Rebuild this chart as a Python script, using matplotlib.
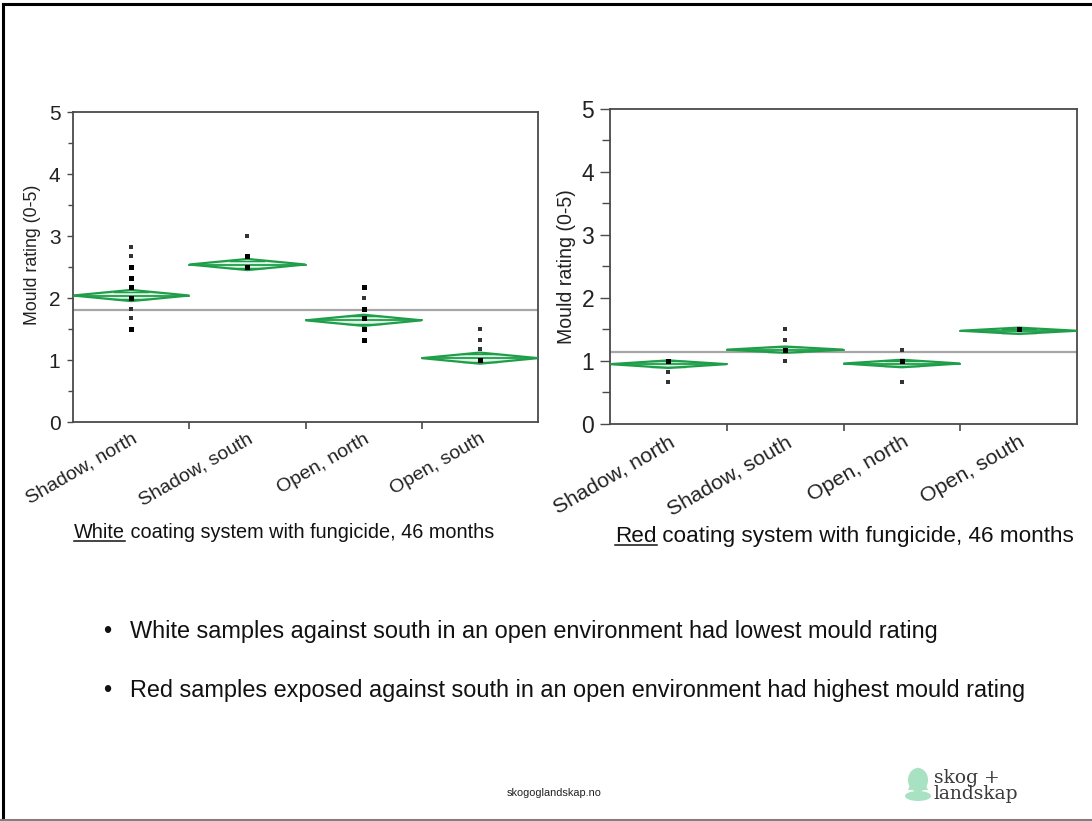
import numpy as np
import matplotlib
matplotlib.use("Agg")
import matplotlib.pyplot as plt
from matplotlib.patches import Polygon, Ellipse
from matplotlib.lines import Line2D

plt.rcParams['font.family'] = ['Liberation Sans', 'DejaVu Sans']

# ---- data ---------------------------------------------------------------
categories = ["Shadow, north", "Shadow, south", "Open, north", "Open, south"]

white_means = [2.04, 2.54, 1.64, 1.03]
white_ci = [0.09, 0.09, 0.09, 0.09]
white_grand_mean = 1.81
white_points = [
    [1.50, 1.67, 1.83, 2.00, 2.17, 2.33, 2.50, 2.67, 2.83],
    [2.50, 2.67, 3.00],
    [1.33, 1.50, 1.67, 1.83, 2.00, 2.17],
    [1.00, 1.17, 1.33, 1.50],
]
white_counts = [
    [2, 1, 1, 2, 2, 2, 2, 1, 1],
    [2, 2, 1],
    [2, 2, 2, 2, 1, 2],
    [2, 1, 1, 1],
]

red_means = [0.95, 1.18, 0.96, 1.48]
red_ci = [0.06, 0.05, 0.06, 0.05]
red_grand_mean = 1.14
red_points = [
    [0.67, 0.83, 1.00],
    [1.00, 1.17, 1.33, 1.50],
    [0.67, 1.00, 1.17],
    [1.50],
]
red_counts = [
    [1, 1, 2],
    [1, 2, 1, 1],
    [1, 2, 1],
    [2],
]

y_label = "Mould rating (0-5)"
bullets = [
    "White samples against south in an open environment had lowest mould rating",
    "Red samples exposed against south in an open environment had highest mould rating",
]

GREEN = "#1f9e4a"
W, H = 1092, 821
fig = plt.figure(figsize=(W / 100, H / 100), dpi=100)


def px_rect(x0, y0, x1, y1):
    return [x0 / W, 1 - y1 / H, (x1 - x0) / W, (y1 - y0) / H]


def draw_panel(ax, means, ci, grand, points, counts, scale, ytick_len):
    n = len(categories)
    ax.set_xlim(-0.5, n - 0.5)
    ax.set_ylim(0, 5)
    ax.axhline(grand, color="#a6a6a6", lw=1.6, zorder=1)
    for i, (m, c) in enumerate(zip(means, ci)):
        xl, xr = i - 0.5, i + 0.5
        diamond = Polygon([(xl, m), (i, m + c), (xr, m), (i, m - c)],
                          closed=True, facecolor="#e2f4e7", edgecolor=GREEN,
                          lw=1.6, zorder=2)
        ax.add_patch(diamond)
        ax.plot([xl, xr], [m, m], color=GREEN, lw=1.3, zorder=3)
        k = c / np.sqrt(2)
        hw = 0.5 * (1 - 1 / np.sqrt(2))
        for s in (1, -1):
            ax.plot([i - hw, i + hw], [m + s * k, m + s * k], color=GREEN,
                    lw=1.0, zorder=3)
    for i, (vals, cnt) in enumerate(zip(points, counts)):
        vals = np.asarray(vals)
        cnt = np.asarray(cnt)
        big = cnt > 1
        ax.plot(np.full(big.sum(), i), vals[big], ls="none", marker="s",
                ms=3.6, color="black", mec="black", mew=0, zorder=4)
        ax.plot(np.full((~big).sum(), i), vals[~big], ls="none", marker="s",
                ms=2.6, color="#333333", mec="#333333", mew=0, zorder=4)

    for sp in ax.spines.values():
        sp.set_color("#4a4a4a")
        sp.set_linewidth(1.3)
    ax.set_yticks(range(0, 6))
    ax.set_yticks(np.arange(0.5, 5, 1.0), minor=True)
    ax.tick_params(axis="y", which="major", length=ytick_len, width=1.0,
                   color="#4a4a4a", labelsize=15 * scale, pad=4.5,
                   labelcolor="#222222")
    ax.tick_params(axis="y", which="minor", length=ytick_len * 0.8,
                   width=1.0, color="#4a4a4a")
    # boundaries between categories carry tick marks, names sit in between
    ax.set_xticks(np.arange(0.5, n - 0.5, 1.0))
    ax.set_xticklabels([])
    ax.tick_params(axis="x", which="major", length=5, width=1.2,
                   color="#4a4a4a")
    ax.set_xticks(np.arange(n), minor=True)
    ax.set_xticklabels(categories, minor=True, rotation=30, ha="right",
                       va="top", rotation_mode="anchor",
                       fontsize=14 * scale, color="#222222")
    ax.tick_params(axis="x", which="minor", length=0, pad=6)
    ax.set_ylabel(y_label, fontsize=12.8 * scale, color="#222222")


ax1 = fig.add_axes(px_rect(73, 112, 538, 422))
draw_panel(ax1, white_means, white_ci, white_grand_mean, white_points,
           white_counts, 1.0, 4.5)
ax1.yaxis.set_label_coords(-0.068, 0.54)

ax2 = fig.add_axes(px_rect(610, 109, 1077, 424))
draw_panel(ax2, red_means, red_ci, red_grand_mean, red_points, red_counts,
           1.1, 7.0)
ax2.yaxis.set_label_coords(-0.072, 0.5)

renderer = fig.canvas.get_renderer()


def caption(x_px, y_px, head, rest, size):
    t1 = fig.text(x_px / W, 1 - y_px / H, head, fontsize=size,
                  va="baseline", ha="left", color="#111111")
    bb = t1.get_window_extent(renderer)
    fig.text(bb.x1 / W, 1 - y_px / H, rest, fontsize=size, va="baseline",
             ha="left", color="#111111")
    yline = (H - y_px - 2.5) / H
    fig.add_artist(Line2D([bb.x0 / W, bb.x1 / W], [yline, yline],
                          color="#111111", lw=1.1))


caption(74, 538, "White", " coating system with fungicide, 46 months", 14.3)
caption(615, 542, "Red", " coating system with fungicide, 46 months", 16.2)

for yb, txt in zip([638, 697], bullets):
    fig.text(103 / W, 1 - yb / H, "\u2022", fontsize=16.9, va="baseline",
             ha="left", color="#111111")
    fig.text(130 / W, 1 - yb / H, txt, fontsize=16.9, va="baseline",
             ha="left", color="#111111")

fig.text(554 / W, 1 - 793 / H, "skogoglandskap.no", fontsize=7.9,
         ha="center", va="center", color="#222222")

# logo
SERIF = ["DejaVu Serif", "Liberation Serif"]
fig.text(934 / W, 1 - 783 / H, "skog +", fontsize=13.5, family=SERIF,
         color="#3a3a3a", va="baseline", ha="left")
fig.text(934 / W, 1 - 799 / H, "landskap", fontsize=13.5, family=SERIF,
         color="#3a3a3a", va="baseline", ha="left")
LOGO = "#a8e2c2"
fig.add_artist(Polygon([(918 / W, 1 - 767 / H), (908 / W, 1 - 790 / H),
                        (928 / W, 1 - 790 / H)], closed=True,
                       facecolor=LOGO, edgecolor="none"))
fig.add_artist(Ellipse((918 / W, 1 - 780 / H), 20 / W, 24 / H,
                       facecolor=LOGO, edgecolor="none"))
fig.add_artist(Ellipse((918 / W, 1 - 796 / H), 26 / W, 10 / H,
                       facecolor=LOGO, edgecolor="none"))

# page frame
fig.add_artist(Line2D([3 / W, 3 / W], [0, 1 - 4 / H], color="black", lw=2.2))
fig.add_artist(Line2D([3 / W, 1], [1 - 4 / H, 1 - 4 / H], color="black",
                      lw=2.2))
fig.add_artist(Line2D([0, 1], [1.5 / H, 1.5 / H], color="#808080", lw=1.5))

fig.savefig("out.png", dpi=100)
